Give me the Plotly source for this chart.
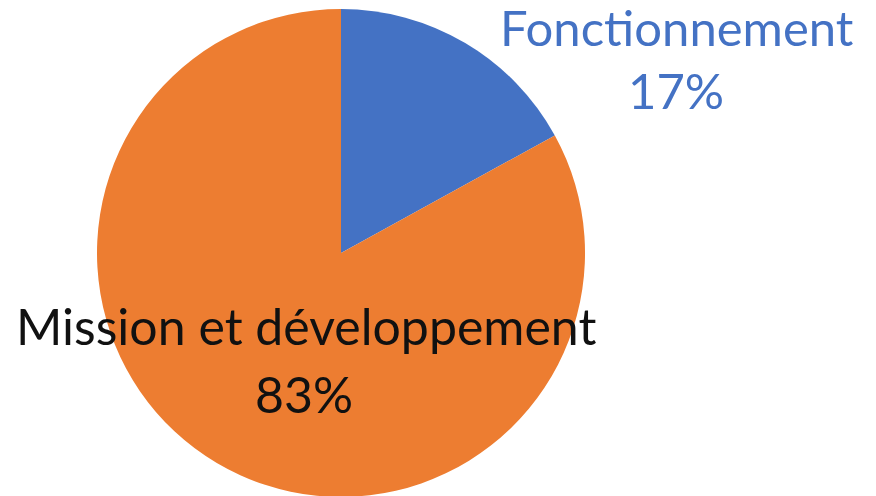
import plotly.graph_objects as go

labels = ["Fonctionnement", "Mission et développement"]
values = [17, 83]
colors = ["#4472C4", "#ED7D31"]
label_colors = ["#4472C4", "#111111"]

W, H = 876, 496
total = sum(values)
pcts = [f"{round(v / total * 100)}%" for v in values]

fig = go.Figure(go.Pie(
    labels=labels, values=values, sort=False, direction="clockwise", rotation=0,
    marker=dict(colors=colors, line=dict(width=0)),
    textinfo="none", hoverinfo="label+percent",
    domain=dict(x=[0.1016, 0.6587], y=[0.0141, 0.998]),
    showlegend=False,
))

FONT = "Lato, Carlito, Calibri, sans-serif"
FS = [49, 50]
# label positions (pixels, center x, line center y)
pos = [((669, 19), (668, 82)), ((298, 318), (296, 386))]
anns = []
for lab, pct, col, fs, (p1, p2) in zip(labels, pcts, label_colors, FS, pos):
    for txt, (px, py) in ((lab, p1), (pct, p2)):
        anns.append(dict(text=txt, x=px / W, y=1 - py / H, xref="paper", yref="paper",
                         xanchor="center", yanchor="middle", showarrow=False,
                         font=dict(family=FONT, size=fs, color=col)))

fig.update_layout(width=W, height=H, margin=dict(l=0, r=0, t=0, b=0),
                  paper_bgcolor="white", plot_bgcolor="white", annotations=anns)
fig.write_html("out.html")
